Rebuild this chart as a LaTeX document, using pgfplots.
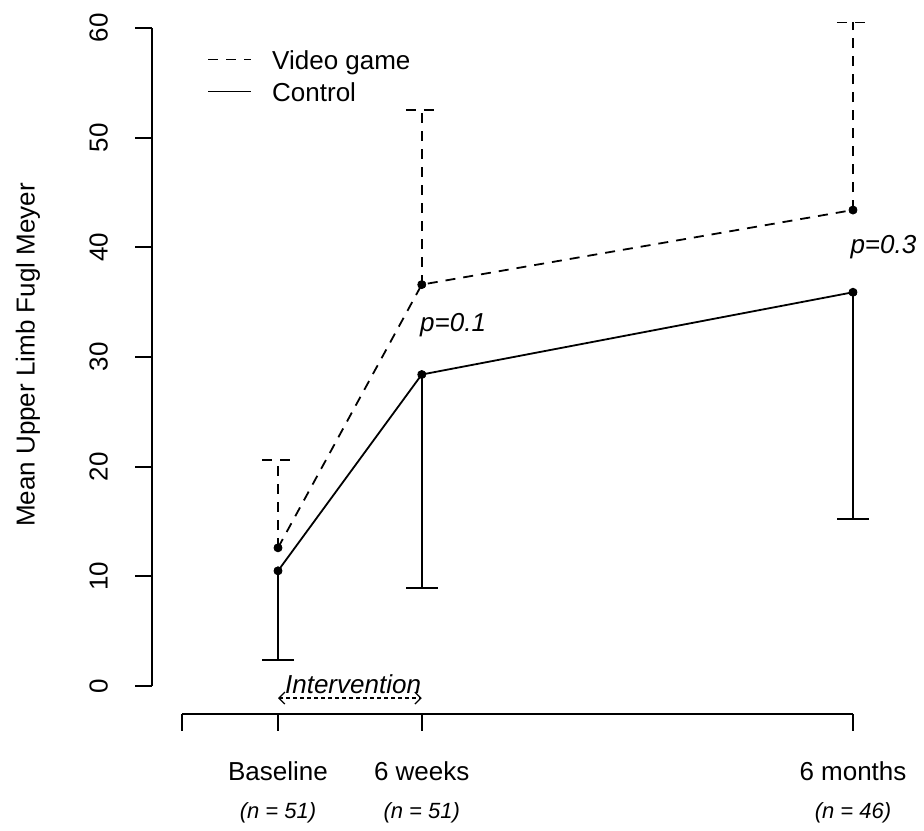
\documentclass[border=0pt]{standalone}
\usepackage{fontspec}
\setmainfont{Liberation Sans}
\usepackage{pgfplots}
\pgfplotsset{compat=1.18}
\usetikzlibrary{arrows.meta}
\begin{document}
\begin{tikzpicture}
\begin{axis}[
  scale only axis,
  width=364.85pt, height=356.15pt,
  xmin=-1.3148, xmax=6.3, ymin=-2.55, ymax=62.4,
  axis lines*=left,
  axis line style={draw=none},
  clip=false,
  tick align=outside,
  major tick length=8.5pt,
  tick style={black, line width=0.9pt},
  xtick={-1,0,1.5,6},
  xticklabels={{}, {Baseline\\{\fontsize{11}{13}\selectfont\itshape (n = 51)}}, {6 weeks\\{\fontsize{11}{13}\selectfont\itshape (n = 51)}}, {6 months\\{\fontsize{11}{13}\selectfont\itshape (n = 46)}}},
  xticklabel style={align=center, font=\fontsize{13}{19}\selectfont, yshift=-12pt},
  ytick={0,10,...,60},
  yticklabel style={xshift=-10pt, rotate=90, anchor=south, font=\fontsize{13}{15}\selectfont},
  /pgf/number format/assume math mode=true,
  ylabel={Mean Upper Limb Fugl Meyer},
  ylabel style={at={(axis description cs:-0.17,0.504)}, anchor=center, font=\fontsize{13}{15}\selectfont},
  legend style={draw=none, fill=none, at={(axis cs:-0.741,55.4)}, anchor=west, inner sep=0pt,
    font=\fontsize{13}{15}\selectfont, row sep=4pt, column sep=10pt,
    nodes={inner sep=0pt, text height=9.3pt, text depth=2.7pt}},
  legend cell align=left,
  legend image code/.code={\draw[#1] (0pt,1.5pt) -- (21.5pt,1.5pt);},
]
\addplot[black, line width=0.9pt, dash pattern=on 5pt off 4pt, mark=asterisk, mark options={solid, line width=0.35pt, mark size=2.2pt}]
  coordinates {(0,12.6) (1.5,36.6) (6,43.4)};
\addlegendentry{Video game}
\addplot[black, line width=0.9pt, mark=asterisk, mark options={line width=0.35pt, mark size=2.2pt}]
  coordinates {(0,10.5) (1.5,28.4) (6,35.9)};
\addlegendentry{Control}
% error bars: video game (upper)
\addplot[forget plot, only marks, mark=none, black,
  error bars/.cd, y dir=plus, y explicit,
  error bar style={black, line width=0.9pt, dash pattern=on 5pt off 4pt},
  error mark=|, error mark options={black, line width=0.9pt, mark size=8pt, dash pattern=on 5pt off 4pt}]
  coordinates {(0,12.6) +- (0,8.0) (1.5,36.6) +- (0,15.9) (6,43.4) +- (0,17.1)};
% error bars: control (lower)
\addplot[forget plot, only marks, mark=none, black,
  error bars/.cd, y dir=minus, y explicit,
  error bar style={black, line width=0.9pt, solid},
  error mark=|, error mark options={black, line width=0.9pt, mark size=8pt, solid}]
  coordinates {(0,10.5) +- (0,8.1) (1.5,28.4) +- (0,19.45) (6,35.9) +- (0,20.7)};
% axis lines in R style
\draw[line width=0.9pt] (axis cs:-1.3148,0) -- (axis cs:-1.3148,60);
\draw[line width=0.9pt] (axis cs:-1,-2.55) -- (axis cs:6,-2.55);
% annotations
\node[font=\fontsize{13}{15}\selectfont\itshape, inner sep=0pt] at (axis cs:0.783,0.2) {Intervention};
\draw[line width=0.6pt, dash pattern=on 2pt off 1.5pt, {Straight Barb[length=3pt]}-{Straight Barb[length=3pt]}] (axis cs:0,-1.1) -- (axis cs:1.5,-1.1);
\node[anchor=west, inner sep=0pt, font=\fontsize{13}{15}\selectfont\itshape] at (axis cs:1.48,32.9) {p=0.1};
\node[anchor=west, inner sep=0pt, font=\fontsize{13}{15}\selectfont\itshape] at (axis cs:5.97,40.0) {p=0.3};
% page frame
\path (axis cs:-2.901,-12.857) rectangle (axis cs:6.741,62.55);
\end{axis}
\end{tikzpicture}
\end{document}
